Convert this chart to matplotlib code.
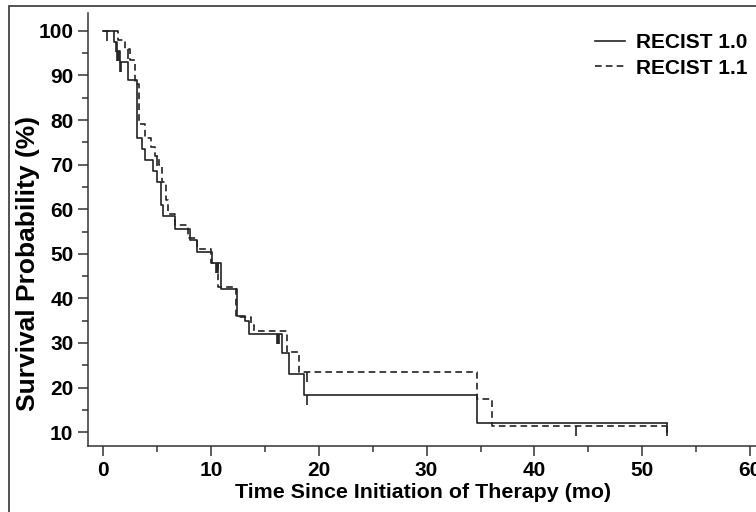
import numpy as np
import matplotlib
matplotlib.use("Agg")
import matplotlib.pyplot as plt
from matplotlib.path import Path
from matplotlib.patches import Rectangle
from matplotlib.ticker import MultipleLocator

# RECIST 1.0 (solid) - event times (mo) and survival (%) after each step
r10_times = [0, 1.0, 1.3, 1.6, 2.3, 3.1, 3.6, 3.9, 4.6, 5.0, 5.4, 5.6, 6.7, 8.1,
             8.75, 10.1, 10.9, 12.4, 13.2, 13.5, 16.6, 17.2, 18.6, 34.7]
r10_surv = [100, 97.5, 95.5, 93, 89, 76, 73.5, 71, 68.5, 66, 61, 58.5, 55.5, 53,
            50.3, 47.9, 42, 36, 35, 32, 27.7, 23, 18.3, 12]
r10_end = 52.3
r10_censor = [0.4, 1.2, 1.3, 1.4, 1.5, 1.6, 1.7, 10.5, 10.6, 10.7, 16.1, 16.2, 16.3, 18.9, 52.3]

# RECIST 1.1 (dashed)
r11_times = [0, 1.4, 2.0, 2.5, 3.0, 3.3, 3.9, 4.4, 4.8, 5.2, 5.5, 5.8, 6.0, 6.7,
             7.9, 8.7, 10.0, 10.7, 12.3, 13.7, 14.0, 17.1, 18.2, 34.7, 36.1]
r11_surv = [100, 98, 96, 93.5, 88, 79, 76, 74, 72, 70, 66, 62, 59, 56.4,
            53.6, 51, 48, 42.5, 35.8, 34, 32.8, 28, 23.5, 17.5, 11.4]
r11_end = 52.3
r11_censor = [2.3, 5.0, 18.9, 43.9, 52.3]

x_ticks = [0, 10, 20, 30, 40, 50, 60]
y_ticks = [10, 20, 30, 40, 50, 60, 70, 80, 90, 100]


def km_value(times, surv, t):
    idx = np.searchsorted(times, t, side="right") - 1
    return np.asarray(surv)[idx]


plt.rcParams["font.family"] = ["Liberation Sans", "DejaVu Sans"]
plt.rcParams["font.weight"] = "bold"

fig = plt.figure(figsize=(7.56, 5.12), dpi=100)
ax = fig.add_axes([88 / 756, 66 / 512, 0.94, 433 / 512])

# downward censor tick
tick = Path([(0, 0), (0, -1)], [Path.MOVETO, Path.LINETO])

for times, surv, end, cens, ls, lab in [
    (r10_times, r10_surv, r10_end, r10_censor, "-", "RECIST 1.0"),
    (r11_times, r11_surv, r11_end, r11_censor, (0, (4, 2.5)), "RECIST 1.1"),
]:
    xs = list(times) + [end]
    ys = list(surv) + [surv[-1]]
    ax.step(xs, ys, where="post", color="#222222", lw=1.2, linestyle=ls, label=lab)
    ax.plot(cens, km_value(times, surv, cens), linestyle="none", marker=tick,
            markersize=14, markeredgewidth=1.2, color="#222222")

ax.set_xlim(-1.4, 64.5)
ax.set_ylim(6.9, 104.0)
ax.set_xticks(x_ticks)
ax.set_yticks(y_ticks)
ax.xaxis.set_minor_locator(MultipleLocator(5))
ax.yaxis.set_minor_locator(MultipleLocator(5))
ax.tick_params(which="major", length=7, width=1.1, labelsize=15, pad=3.5, color="#333333")
ax.tick_params(which="minor", length=4, width=1.1, color="#333333")
for lbl in ax.get_xticklabels() + ax.get_yticklabels():
    lbl.set_fontweight("bold")
for side in ["top", "right"]:
    ax.spines[side].set_visible(False)
for side in ["left", "bottom"]:
    ax.spines[side].set_linewidth(1.1)
    ax.spines[side].set_color("#333333")

fig.text(28 / 756, 1 - 263 / 512, "Survival Probability (%)", rotation=90,
         ha="center", va="center", fontsize=19, fontweight="bold")
fig.text(423 / 756, 1 - 492 / 512, "Time Since Initiation of Therapy (mo)",
         ha="center", va="center", fontsize=15.4, fontweight="bold")

leg = ax.legend(loc="upper left", bbox_to_anchor=(595 / 756, 1 - 33 / 512),
                bbox_transform=fig.transFigure, frameon=False, fontsize=15,
                handlelength=1.45, handletextpad=0.5, labelspacing=0.32,
                borderpad=0, borderaxespad=0)
for t in leg.get_texts():
    t.set_fontweight("bold")

# outer frame (cropped on the right and bottom)
fig.patches.append(Rectangle((9 / 756, -0.1), 1.2, 1.1 - 6 / 512, fill=False,
                             transform=fig.transFigure, lw=1.3, ec="#444444"))

fig.savefig("out.png", dpi=100)
